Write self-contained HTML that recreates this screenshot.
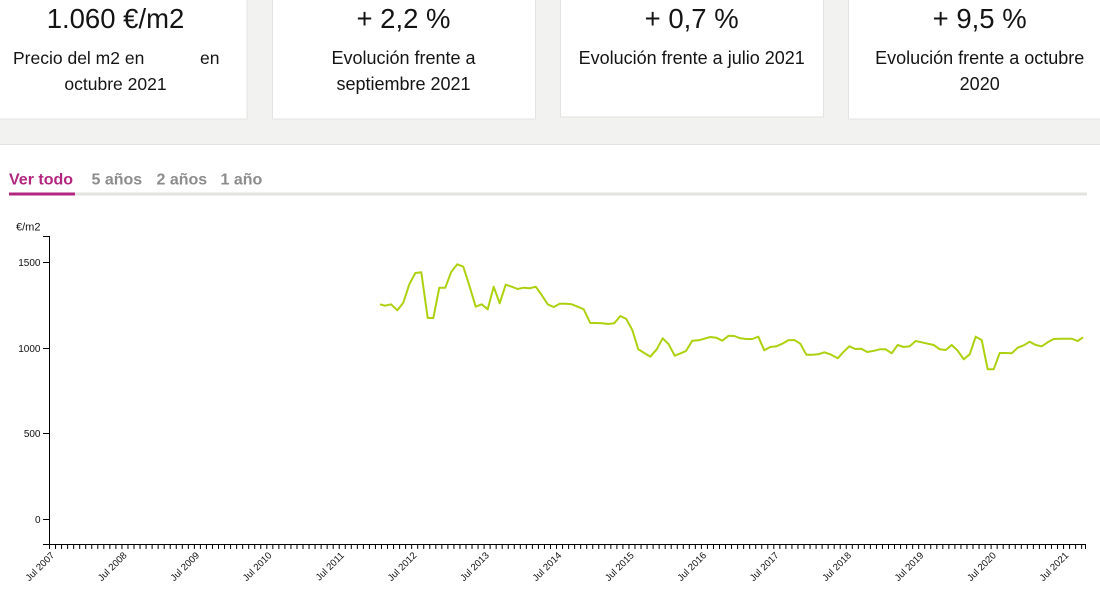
<!DOCTYPE html>
<html>
<head>
<meta charset="utf-8">
<style>
  html,body{margin:0;padding:0;background:#fff;}
  body{width:1100px;height:600px;overflow:hidden;}
  svg{display:block;font-family:"Liberation Sans",sans-serif;}
</style>
</head>
<body>
<svg width="1100" height="600" viewBox="0 0 1100 600" xmlns="http://www.w3.org/2000/svg">
  <!-- top band -->
  <rect x="0" y="0" width="1100" height="144" fill="#f2f2f0"/>
  <line x1="0" y1="144.5" x2="1100" y2="144.5" stroke="#e2e2df" stroke-width="1"/>

  <!-- cards -->
  <rect x="-16.5" y="-10.5" width="263.5" height="129.5" fill="#fff" stroke="#e3e3e1" stroke-width="1"/>
  <rect x="272.5" y="-10.5" width="263" height="129.5" fill="#fff" stroke="#e3e3e1" stroke-width="1"/>
  <rect x="560.5" y="-10.5" width="263" height="127.5" fill="#fff" stroke="#e3e3e1" stroke-width="1"/>
  <rect x="848.5" y="-10.5" width="263" height="129.5" fill="#fff" stroke="#e3e3e1" stroke-width="1"/>

  <g fill="#141414">
    <text x="115.5" y="28" font-size="27.5" text-anchor="middle">1.060 €/m2</text>
    <text x="13" y="64" font-size="17.5">Precio del m2 en</text>
    <text x="200" y="64" font-size="17.5">en</text>
    <text x="115.5" y="90" font-size="17.5" text-anchor="middle">octubre 2021</text>

    <text x="403.5" y="28" font-size="27.5" text-anchor="middle">+ 2,2 %</text>
    <text x="403.5" y="64" font-size="18" text-anchor="middle">Evolución frente a</text>
    <text x="403.5" y="90" font-size="18" text-anchor="middle">septiembre 2021</text>

    <text x="691.7" y="28" font-size="27.5" text-anchor="middle">+ 0,7 %</text>
    <text x="691.7" y="64" font-size="18" text-anchor="middle">Evolución frente a julio 2021</text>

    <text x="979.7" y="28" font-size="27.5" text-anchor="middle">+ 9,5 %</text>
    <text x="979.7" y="64" font-size="18" text-anchor="middle">Evolución frente a octubre</text>
    <text x="979.7" y="90" font-size="18" text-anchor="middle">2020</text>
  </g>

  <!-- tabs -->
  <g font-size="16" font-weight="bold">
    <text x="9" y="184.5" fill="#b3267f">Ver todo</text>
    <text x="91.5" y="184.5" fill="#8c8c8c">5 años</text>
    <text x="156.5" y="184.5" fill="#8c8c8c">2 años</text>
    <text x="220.5" y="184.5" fill="#8c8c8c">1 año</text>
  </g>
  <rect x="9" y="192.5" width="1078" height="3" fill="#e3e3e0"/>
  <rect x="9" y="192.5" width="66" height="3" fill="#b3267f"/>

  <!-- y axis -->
  <text x="16" y="230.5" font-size="11" fill="#111">€/m2</text>
  <path d="M43,236.5 H49.5 V544.5" fill="none" stroke="#000" stroke-width="1"/>
  <g stroke="#000" stroke-width="1">
    <line x1="43" y1="262.5" x2="49.5" y2="262.5"/>
    <line x1="43" y1="348.5" x2="49.5" y2="348.5"/>
    <line x1="43" y1="433.5" x2="49.5" y2="433.5"/>
    <line x1="43" y1="519.5" x2="49.5" y2="519.5"/>
  </g>
  <g font-size="10" fill="#111" text-anchor="end">
    <text x="40.5" y="266">1500</text>
    <text x="40.5" y="352">1000</text>
    <text x="40.5" y="437">500</text>
    <text x="40.5" y="523">0</text>
  </g>

  <!-- x axis -->
  <line x1="43" y1="544.5" x2="1085.5" y2="544.5" stroke="#000" stroke-width="1"/>
  <line x1="49" y1="546.5" x2="1084" y2="546.5" stroke="#000" stroke-width="5" stroke-dasharray="1 5.036"/>
  <line x1="1085.5" y1="544" x2="1085.5" y2="549" stroke="#000" stroke-width="1"/>

  <g font-size="9.6" fill="#111" text-anchor="end">
    <text transform="translate(55,556) rotate(-45)">Jul 2007</text>
    <text transform="translate(127.4,556) rotate(-45)">Jul 2008</text>
    <text transform="translate(199.9,556) rotate(-45)">Jul 2009</text>
    <text transform="translate(272.3,556) rotate(-45)">Jul 2010</text>
    <text transform="translate(344.7,556) rotate(-45)">Jul 2011</text>
    <text transform="translate(417.2,556) rotate(-45)">Jul 2012</text>
    <text transform="translate(489.6,556) rotate(-45)">Jul 2013</text>
    <text transform="translate(562,556) rotate(-45)">Jul 2014</text>
    <text transform="translate(634.5,556) rotate(-45)">Jul 2015</text>
    <text transform="translate(706.9,556) rotate(-45)">Jul 2016</text>
    <text transform="translate(779.3,556) rotate(-45)">Jul 2017</text>
    <text transform="translate(851.8,556) rotate(-45)">Jul 2018</text>
    <text transform="translate(924.2,556) rotate(-45)">Jul 2019</text>
    <text transform="translate(996.6,556) rotate(-45)">Jul 2020</text>
    <text transform="translate(1069,556) rotate(-45)">Jul 2021</text>
  </g>

  <!-- series -->
  <polyline fill="none" stroke="#acd10f" stroke-width="2" stroke-linejoin="round" points="
380,304.3 385,305.7 391,304.3 397.3,310.3 403.3,302.7 409.3,284.3 415.3,273 421.3,272.3
427.7,318 433.3,318 439.3,287.7 445.3,287.7 451.3,271.7 457.3,264.3 463.3,266.7 469.7,286.7
475.7,306.7 481.7,304.3 487.7,309.3 493.7,286.7 499.7,303.3 505.7,284.7 511.7,286.7 517.7,289
523.7,287.7 529.7,288.3 535.7,286.7 541.7,295 547.7,304.3 553.7,307 559.7,303.7 565.7,303.7
571.7,304.3 577.7,306.7 583.7,309.3 590.3,323 596.3,323 602.3,323.3 608.3,324 614.3,323.3
620.3,316 626.3,319 632.3,330 638.3,349.3 644.3,353 650.3,356.7 656.7,349.3 662.7,338.3
668.7,344.3 674.7,355.7 680.7,353.3 686,351 692.3,340.7 698.7,340.3 704.3,338.7 710.3,337
716.3,337.7 722.3,340.7 728.7,335.7 734.3,336 740.3,338.3 746.3,339 752.3,339 758.3,336.7
764.3,350.3 770.3,347 776.3,346.3 782.3,343.7 788.3,340.3 794.3,340 800.3,343.7 806.3,354.7
812.3,354.7 818.3,354.3 824.3,352.3 830.3,354.3 837.7,358.3 843.7,351.7 849.3,346.3 855.3,349
861.3,348.7 867.3,352 873.8,350.8 879.8,349.3 885.7,349.3 891.7,353.3 897.7,345 903.7,347
909.7,346.3 915.7,341 921.7,342.3 927.7,343.7 933.7,345 939.7,349.3 945.7,350 951.7,345
957.7,350.7 963.7,359.3 969.7,354.3 975.7,336.7 981.7,340 987.7,369.3 993.7,369.3 999.7,353
1005.7,353 1011.7,353.3 1017.7,347.7 1023.7,345.3 1029.7,341.7 1035.7,345 1041.7,346.3 1047.7,342.3
1053.7,339 1059.7,338.7 1065.7,338.7 1071.7,338.7 1077.7,341 1083,337.3"/>
</svg>
</body>
</html>
